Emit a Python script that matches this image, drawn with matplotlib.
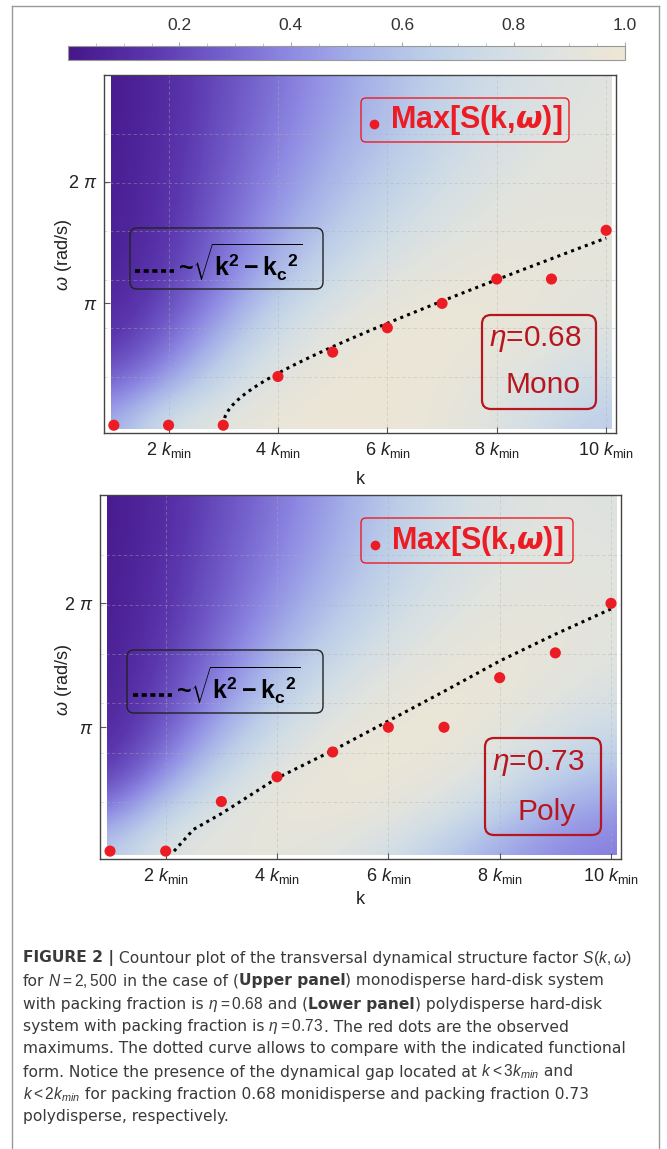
import numpy as np
import matplotlib
matplotlib.use("Agg")
import matplotlib.pyplot as plt
from matplotlib.colors import LinearSegmentedColormap
from matplotlib.patches import Rectangle, FancyBboxPatch
from matplotlib.lines import Line2D
from matplotlib.transforms import IdentityTransform

plt.rcParams["font.family"] = ["Liberation Sans", "DejaVu Sans"]
plt.rcParams["mathtext.fontset"] = "custom"
plt.rcParams["mathtext.rm"] = "Liberation Sans"
plt.rcParams["mathtext.it"] = "Liberation Sans:italic"
plt.rcParams["mathtext.bf"] = "Liberation Sans:bold"

# ---------------- data ----------------
k_vals = np.arange(1, 11)          # k in units of k_min
w_rows = np.arange(0, 10)          # omega (rad/s) of the field rows

# observed maxima of S(k, w), in units of pi/5
mono_max = [0, 0, 0, 2, 3, 4, 5, 6, 6, 8]
poly_max = [0, 0, 2, 3, 4, 5, 5, 7, 8, 10]

# dotted guide curves ~ a*sqrt(k^2 - kc^2)
mono_kc, mono_amp = 3.0, 0.506
poly_guide_k = [2.15, 2.5, 3, 4, 5, 6, 7, 8, 9, 10]
poly_guide_w = [0.0, 0.55, 0.95, 1.85, 2.55, 3.3, 4.05, 4.82, 5.5, 6.14]

# normalised S(k, w): rows w = 0..9, columns k = 1..10
mono_S = np.array([
    [0.50, 0.82, 0.92, 0.97, 0.99, 0.98, 0.95, 0.86, 0.72, 0.64],
    [0.30, 0.50, 0.75, 0.92, 0.97, 0.98, 0.96, 0.90, 0.80, 0.72],
    [0.14, 0.33, 0.58, 0.82, 0.94, 0.98, 0.97, 0.95, 0.89, 0.82],
    [0.08, 0.22, 0.44, 0.68, 0.85, 0.94, 0.97, 0.96, 0.93, 0.89],
    [0.05, 0.16, 0.35, 0.55, 0.73, 0.86, 0.93, 0.95, 0.94, 0.92],
    [0.04, 0.13, 0.30, 0.47, 0.63, 0.76, 0.86, 0.92, 0.93, 0.92],
    [0.03, 0.12, 0.27, 0.42, 0.56, 0.68, 0.79, 0.88, 0.91, 0.91],
    [0.03, 0.11, 0.25, 0.38, 0.51, 0.62, 0.73, 0.83, 0.89, 0.90],
    [0.02, 0.10, 0.23, 0.35, 0.47, 0.58, 0.69, 0.79, 0.86, 0.89],
    [0.02, 0.10, 0.22, 0.33, 0.45, 0.56, 0.67, 0.77, 0.85, 0.88],
])
poly_S = np.array([
    [0.62, 0.88, 0.92, 0.92, 0.88, 0.78, 0.62, 0.48, 0.40, 0.36],
    [0.35, 0.66, 0.88, 0.96, 0.96, 0.93, 0.82, 0.65, 0.50, 0.44],
    [0.15, 0.40, 0.70, 0.90, 0.97, 0.97, 0.94, 0.82, 0.66, 0.58],
    [0.08, 0.27, 0.52, 0.76, 0.92, 0.97, 0.97, 0.92, 0.80, 0.72],
    [0.05, 0.20, 0.41, 0.63, 0.82, 0.93, 0.97, 0.96, 0.90, 0.83],
    [0.04, 0.16, 0.34, 0.53, 0.70, 0.84, 0.93, 0.96, 0.93, 0.88],
    [0.03, 0.13, 0.29, 0.45, 0.61, 0.75, 0.86, 0.93, 0.93, 0.89],
    [0.03, 0.12, 0.26, 0.40, 0.54, 0.68, 0.80, 0.89, 0.91, 0.89],
    [0.02, 0.10, 0.24, 0.36, 0.50, 0.64, 0.76, 0.86, 0.89, 0.87],
    [0.02, 0.10, 0.22, 0.34, 0.47, 0.61, 0.74, 0.84, 0.88, 0.86],
])

cbar_ticks = [0.2, 0.4, 0.6, 0.8, 1.0]
k_ticks = [2, 4, 6, 8, 10]

caption = [
    [("FIGURE 2 |", "bold"), (" Countour plot of the transversal dynamical structure factor", "normal"),
     (r" $S(k,\omega)$", "normal")],
    [("for", "normal"), (r" $N=2,500$", "normal"), (" in the case of (", "normal"), ("Upper panel", "bold"),
     (") monodisperse hard-disk system", "normal")],
    [("with packing fraction is", "normal"), (r" $\eta=0.68$", "normal"), (" and (", "normal"),
     ("Lower panel", "bold"), (") polydisperse hard-disk", "normal")],
    [("system with packing fraction is", "normal"), (r" $\eta=0.73$", "normal"),
     (". The red dots are the observed", "normal")],
    [("maximums. The dotted curve allows to compare with the indicated functional", "normal")],
    [("form. Notice the presence of the dynamical gap located at", "normal"), (r" $k<3k_{min}$", "normal"),
     (" and", "normal")],
    [(r"$k<2k_{min}$", "normal"), (" for packing fraction 0.68 monidisperse and packing fraction 0.73", "normal")],
    [("polydisperse, respectively.", "normal")],
]

# ---------------- figure ----------------
W, H = 667, 1149
fig = plt.figure(figsize=(W / 100, H / 100), dpi=100)

cmap = LinearSegmentedColormap.from_list("skw", [
    (0.0, "#46168a"), (0.15, "#5b37ae"), (0.28, "#7461cc"), (0.40, "#8e8ae3"),
    (0.52, "#a6b1e8"), (0.64, "#bccde8"), (0.76, "#cfdce6"), (0.88, "#e0e3df"),
    (1.0, "#eee6d4")])

RED = "#ec1c24"
DARKRED = "#b8161e"
DOTS = (0, (1.0, 1.4))


def px_rect(x0, y0, x1, y1):
    return [x0 / W, 1 - y1 / H, (x1 - x0) / W, (y1 - y0) / H]


def ftext(x, y, s, **kw):
    return fig.text(x / W, 1 - y / H, s, **kw)


def rbox(x0, y0, x1, y1, ec, lw, r=7):
    p = FancyBboxPatch((x0, H - y1), x1 - x0, y1 - y0,
                       boxstyle=f"round,pad=0,rounding_size={r}",
                       transform=IdentityTransform(), fc="none", ec=ec, lw=lw, zorder=10)
    fig.add_artist(p)


def panel(rect, field, peaks, gk, gw):
    ax = fig.add_axes(rect)
    im = ax.imshow(field, origin="lower", extent=(0.5, 10.5, -0.5, 9.5), cmap=cmap,
                   vmin=0, vmax=1, interpolation="bicubic", aspect="auto", zorder=0)
    im.set_clip_path(Rectangle((0.95, -0.1), 9.15, 9.1, transform=ax.transData))
    ax.set_xlim(0.82, 10.18)
    ax.set_ylim(-0.2, 9.03)
    ax.set_xticks(k_ticks)
    ax.set_xticklabels([rf"${n}\ k_{{\mathrm{{min}}}}$" for n in k_ticks])
    ax.set_yticks([np.pi, 2 * np.pi])
    ax.set_yticklabels([r"$\pi$", r"$2\ \pi$"])
    ax.set_yticks(np.arange(1, 7) * 1.25, minor=True)
    ax.tick_params(which="major", direction="in", length=4, width=0.8, color="#555",
                   labelsize=13, labelcolor="#222", pad=5)
    ax.tick_params(which="minor", length=0)
    grid_kw = dict(color="#b0b0b0", alpha=0.45, ls=(0, (4, 3)), lw=0.6)
    ax.grid(which="major", axis="x", **grid_kw)
    ax.grid(which="minor", axis="y", **grid_kw)
    for sp in ax.spines.values():
        sp.set_color("#444")
        sp.set_linewidth(1.0)
    ax.plot(gk, gw, color="black", lw=2.2, ls=DOTS, zorder=4)
    ax.scatter(k_vals, np.array(peaks) * np.pi / 5, s=64, color=RED, edgecolors="none",
               zorder=5, clip_on=False)
    return ax


# upper panel
mono_k = np.linspace(mono_kc, 10, 200)
mono_w = mono_amp * np.sqrt(mono_k ** 2 - mono_kc ** 2)
panel(px_rect(104, 75, 616, 433), mono_S, mono_max, mono_k, mono_w)
# lower panel
panel(px_rect(100, 495, 621, 859), poly_S, poly_max, poly_guide_k, poly_guide_w)

# axis labels
for yk, yw in [(480, 255), (900, 680)]:
    ftext(360, yk, "k", fontsize=13, ha="center", va="center", color="#222")
    ftext(63, yw, r"$\omega$ (rad/s)", fontsize=13, ha="center", va="center",
          rotation=90, color="#222")

# annotation boxes
for (bx, dot, tx, ty, lg, lline, lfx, lfy, eb, eta, tag) in [
        ((361, 98, 569, 142), (374, 124), 390, 120,
         (130, 228, 323, 289), (135, 174, 271), 178, 262,
         (482, 315, 596, 409), ("$\\eta$=0.68", 535, 339), ("Mono", 543, 385)),
        ((361, 518, 573, 563), (375, 545), 391, 541,
         (127, 650, 323, 713), (133, 172, 695), 176, 685,
         (485, 738, 601, 835), ("$\\eta$=0.73", 538, 763), ("Poly", 547, 812))]:
    rbox(*bx, ec=RED, lw=1.0, r=5)
    fig.add_artist(Line2D([dot[0] / W], [1 - dot[1] / H], marker="o", ms=7, color=RED,
                          mec="none", transform=fig.transFigure))
    ftext(tx, ty, r"Max[S(k,$\boldsymbol{\omega}$)]", fontsize=22, fontweight="bold",
          color=RED, ha="left", va="center")
    rbox(*lg, ec="#222", lw=1.0, r=7)
    fig.add_artist(Line2D([lline[0] / W, lline[1] / W], [1 - lline[2] / H] * 2, color="black",
                          lw=2.6, ls=(0, (1.4, 1.0)), transform=fig.transFigure))
    ftext(lfx, lfy, r"~$\mathbf{\sqrt{k^2 - {k_c}^2}}$", fontsize=18, fontweight="bold",
          color="black", ha="left", va="center")
    rbox(*eb, ec=DARKRED, lw=1.6, r=9)
    ftext(eta[1], eta[2], eta[0], fontsize=21.5, color=DARKRED, ha="center", va="center")
    ftext(tag[1], tag[2], tag[0], fontsize=21.5, color=DARKRED, ha="center", va="center")

# colorbar
cax = fig.add_axes(px_rect(68, 46, 625, 60))
sm = plt.cm.ScalarMappable(cmap=cmap, norm=plt.Normalize(0, 1))
cb = fig.colorbar(sm, cax=cax, orientation="horizontal", ticklocation="top")
cb.set_ticks(cbar_ticks)
cb.set_ticklabels([f"{t:.1f}" for t in cbar_ticks])
cax.set_xticks(np.arange(0.05, 1.0, 0.05), minor=True)
cax.tick_params(which="major", direction="out", length=3, color="#aaa", labelsize=12.5,
                labelcolor="#333", pad=6)
cax.tick_params(which="minor", direction="out", length=2, color="#bbb")
cb.outline.set_edgecolor("#999")
cb.outline.set_linewidth(0.8)

# outer frame
for xs, ys in [([12, 12], [6, H]), ([659, 659], [6, H]), ([12, 659], [6, 6])]:
    fig.add_artist(Line2D([x / W for x in xs], [1 - y / H for y in ys], color="#999",
                          lw=1.0, transform=fig.transFigure))

# caption
renderer = fig.canvas.get_renderer()
cap_y = [958, 981, 1004, 1027, 1049, 1072, 1095, 1117]
for line, y in zip(caption, cap_y):
    x = 23
    for s, wgt in line:
        t = ftext(x, y, s, fontsize=11.2, fontweight=wgt, family=["DejaVu Sans"],
                  color="#3a3a3a", ha="left", va="center")
        x += t.get_window_extent(renderer).width

fig.savefig("out.png", dpi=100)
